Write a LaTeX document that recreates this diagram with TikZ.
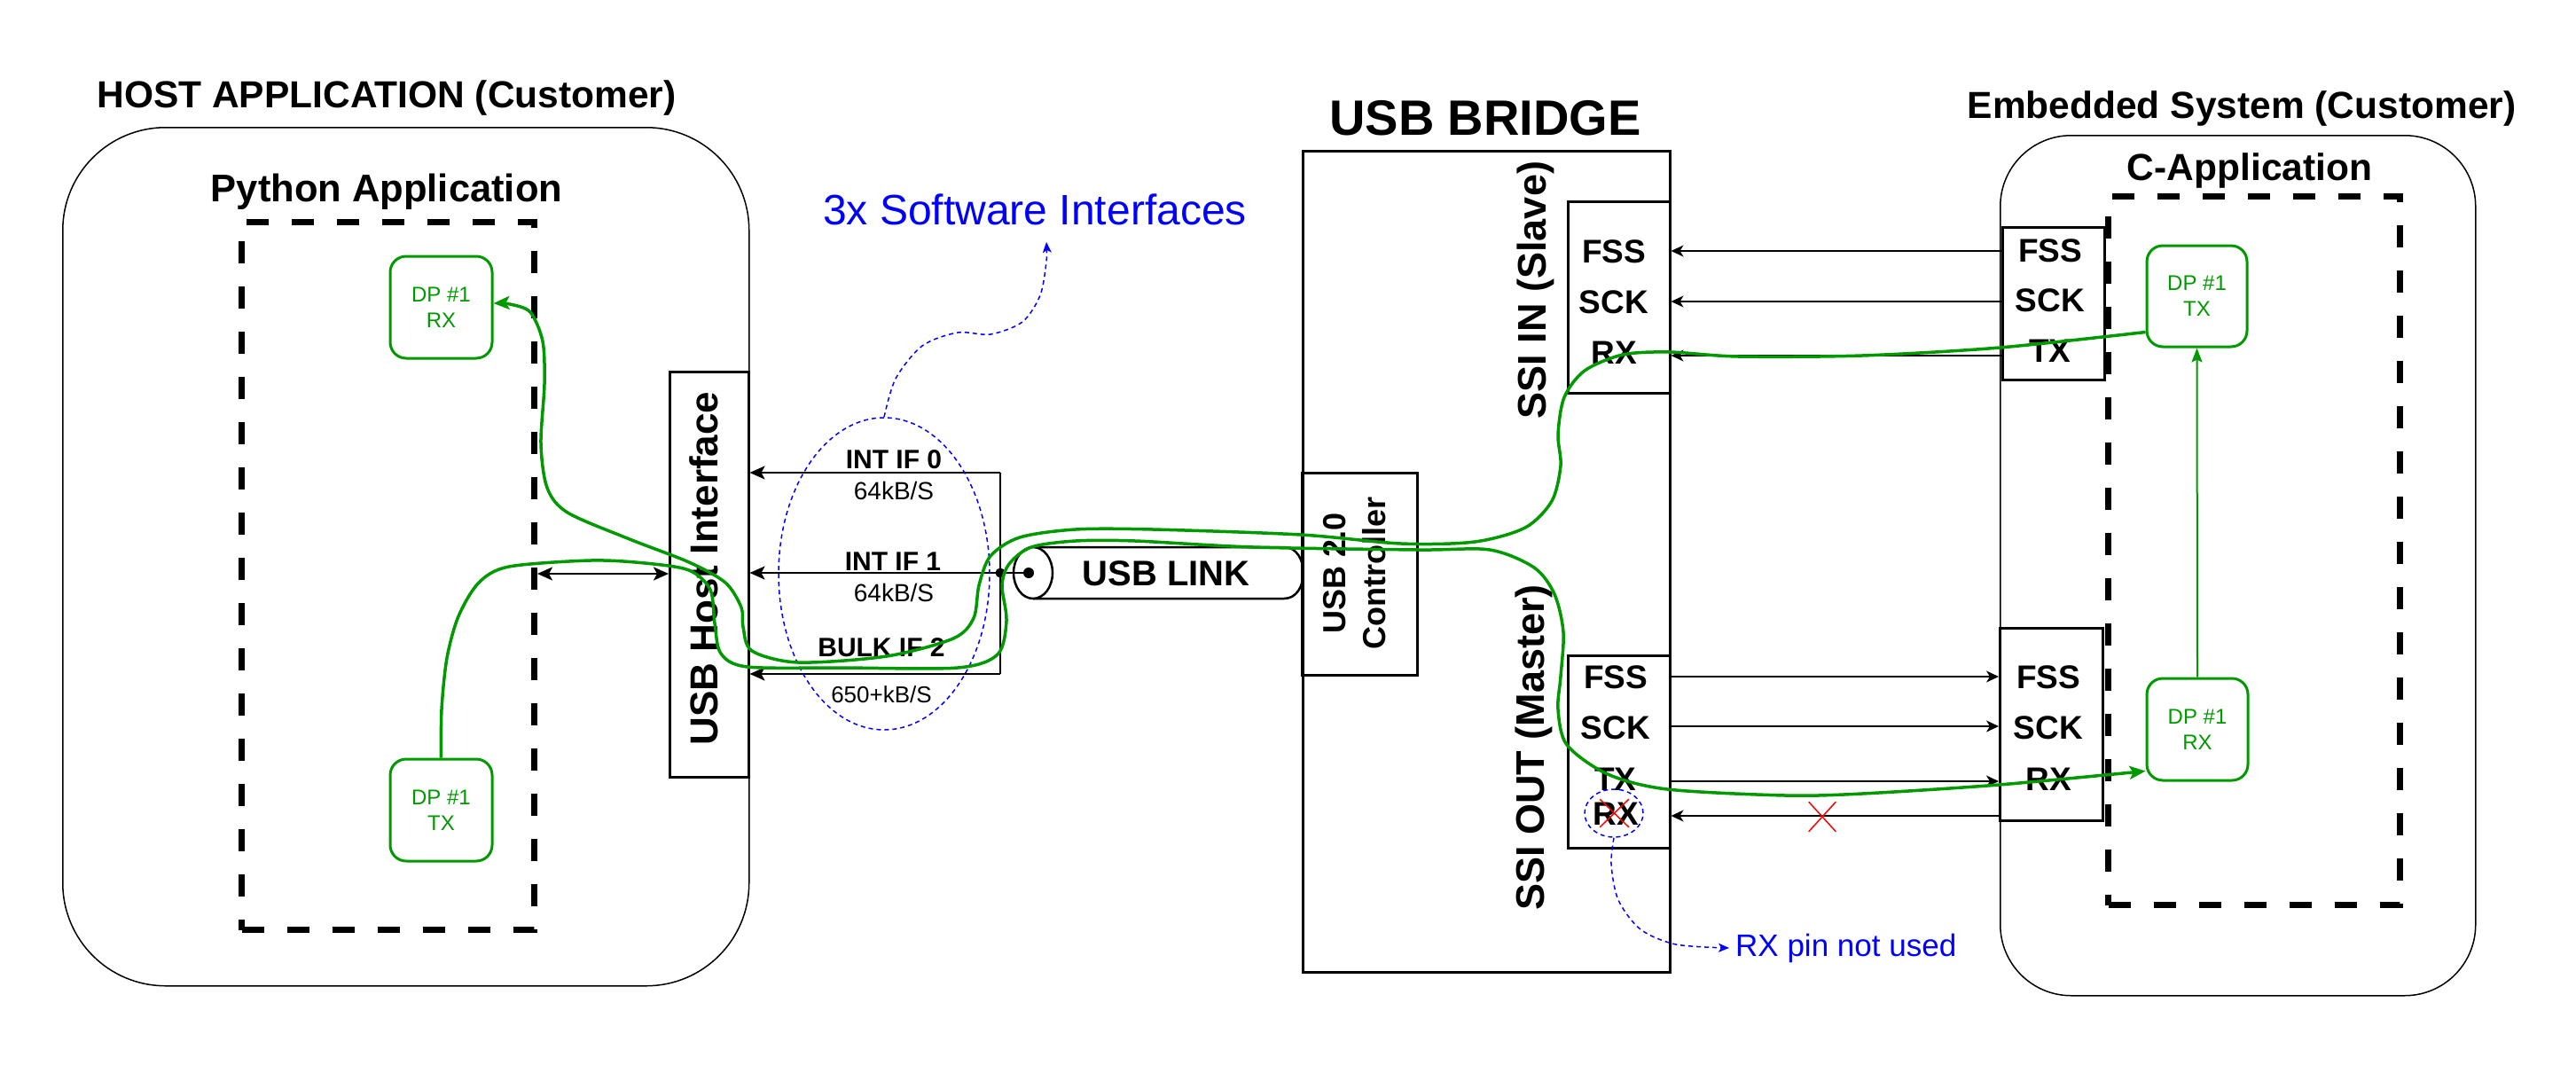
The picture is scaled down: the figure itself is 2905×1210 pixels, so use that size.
\documentclass[tikz,border=0pt]{standalone}
\usepackage{fontspec}
\setmainfont{Liberation Sans}
\usetikzlibrary{arrows.meta,shapes.geometric,shapes.misc,calc}
\definecolor{dgreen}{HTML}{009900}
\definecolor{myblue}{HTML}{0000FF}
\definecolor{myred}{HTML}{FF0000}
\tikzset{
 ttl/.style={font=\fontsize{42.5}{50}\selectfont\bfseries, anchor=base, inner sep=0pt},
 pinlbl/.style={font=\fontsize{37}{44}\selectfont\bfseries, anchor=base, inner sep=0pt},
 ifname/.style={font=\fontsize{30}{36}\selectfont\bfseries, anchor=base, inner sep=0pt},
 ifrate/.style={font=\fontsize{28}{34}\selectfont, anchor=base, inner sep=0pt},
 vlbl/.style={font=\fontsize{45}{54}\selectfont\bfseries, anchor=base, inner sep=0pt, rotate=90},
 blk/.style={draw, line width=2.5pt, inner sep=0pt, anchor=north west},
 roundbox/.style={draw, line width=1.5pt, inner sep=0pt, anchor=north west},
 dashbox/.style={draw, line width=7pt, dash pattern=on 25pt off 26pt, inner sep=0pt, anchor=north west},
 dpbox/.style={draw=dgreen, line width=3pt, rounded corners=18pt, text=dgreen, font=\fontsize{24}{29}\selectfont, align=center, inner sep=0pt},
 arr/.style={line width=2.5pt, -{Stealth[length=17pt,width=15pt,inset=4pt]}},
 dblarr/.style={line width=2.5pt, {Stealth[length=17pt,width=15pt,inset=4pt]}-{Stealth[length=17pt,width=15pt,inset=4pt]}},
 sig/.style={line width=1.6pt, -{Stealth[length=14pt,width=13pt,inset=4pt]}},
 gline/.style={draw=dgreen, line width=3.5pt, -{Stealth[length=18pt,width=15pt,inset=4pt]}},
 bluedash/.style={draw=myblue, line width=1.5pt, dash pattern=on 5pt off 4pt},
 bluetip/.style={-{Stealth[length=12pt,width=10pt,inset=3pt]}},
 xmark/.style={cross out, draw=myred, line width=1.5pt, inner sep=0pt},
}
\begin{document}
\begin{tikzpicture}[x=1pt,y=-1pt]
\fill[white] (0,0) rectangle (2905,1210);
\useasboundingbox (0,0) rectangle (2905,1210);

% big containers
\node[roundbox, rounded corners=116pt, minimum width=774pt, minimum height=968pt] (host) at (70,143) {};
\node[roundbox, rounded corners=80pt, minimum width=536pt, minimum height=970pt] (emb) at (2255,152) {};
\node[dashbox, minimum width=330pt, minimum height=798pt] (pyapp) at (269,247) {};
\node[dashbox, minimum width=329pt, minimum height=799pt] (capp) at (2374,218) {};
\node[blk, minimum width=414pt, minimum height=926pt] (bridge) at (1468,169) {};
\node[blk, minimum width=115pt, minimum height=216pt] (ssiin) at (1767,226) {};
\node[blk, minimum width=115pt, minimum height=217pt] (ssiout) at (1767,738) {};
\node[blk, minimum width=130pt, minimum height=228pt] (usbc) at (1467,532) {};
\node[blk, minimum width=89pt, minimum height=457pt] (hif) at (754,418) {};
\node[blk, minimum width=115pt, minimum height=172pt] (embin) at (2257,255) {};
\node[blk, minimum width=116pt, minimum height=217pt] (embout) at (2254,707) {};

% titles
\node[ttl] (ttlhost) at (436,121) {HOST APPLICATION (Customer)};
\node[ttl, font=\fontsize{43.5}{52}\selectfont\bfseries] (ttlpy) at (436,227) {Python Application};
\node[ttl, font=\fontsize{56}{67}\selectfont\bfseries] (ttlbr) at (1675,152) {USB BRIDGE};
\node[ttl] (ttlemb) at (2528,133) {Embedded System (Customer)};
\node[ttl] (ttlc) at (2537,203) {C-Application};
\node[font=\fontsize{48}{57}\selectfont, text=myblue, anchor=base, inner sep=0pt] (swtxt) at (1167,253) {3x Software Interfaces};
\node[font=\fontsize{35}{42}\selectfont, text=myblue, anchor=base west, inner sep=0pt] (rxtxt) at (1957,1078) {RX pin not used};

% interface labels
\node[ifname] (l0a) at (1008,528) {INT IF 0};
\node[ifrate] (l0b) at (1008,563) {64kB/S};
\node[ifname] (l1a) at (1007,643) {INT IF 1};
\node[ifrate] (l1b) at (1008,678) {64kB/S};
\node[ifname] (l2a) at (994,740) {BULK IF 2};
\node[ifrate, font=\fontsize{26}{31}\selectfont] (l2b) at (994,792) {650+kB/S};

% rotated labels
\node[vlbl] (lblin) at (1743,327) {SSI IN (Slave)};
\node[vlbl] (lblout) at (1741,843) {SSI OUT (Master)};
\node[vlbl, font=\fontsize{44}{53}\selectfont\bfseries] (lblhif) at (809,641) {USB Host Interface};
\node[font=\fontsize{36}{45}\selectfont\bfseries, align=center, rotate=90, inner sep=0pt] (lblusbc) at (1528,646) {USB 2.0\\Controller};

% pin labels
\node[pinlbl] (in1) at (1820,296) {FSS};
\node[pinlbl] (in2) at (1820,353) {SCK};
\node[pinlbl] (in3) at (1820,410) {RX};
\node[pinlbl] (e1) at (2312,295) {FSS};
\node[pinlbl] (e2) at (2312,351) {SCK};
\node[pinlbl] (e3) at (2312,408) {TX};
\node[pinlbl] (o1) at (1822,776) {FSS};
\node[pinlbl] (o2) at (1822,833) {SCK};
\node[pinlbl] (o3) at (1822,891) {TX};
\node[pinlbl] (o4) at (1822,930) {RX};
\node[pinlbl] (b1) at (2310,776) {FSS};
\node[pinlbl] (b2) at (2310,833) {SCK};
\node[pinlbl] (b3) at (2310,891) {RX};

% USB link cylinder
\draw[line width=2.5pt] (1165,617) -- (1448,617) .. controls (1477,617) and (1477,675) .. (1448,675) -- (1165,675);
\draw[line width=2.5pt, fill=white] (1165,646) ellipse [x radius=22pt, y radius=29pt];
\node[font=\fontsize{40}{48}\selectfont\bfseries, anchor=base, inner sep=0pt] (lbllink) at (1315,660) {USB LINK};

% DP boxes
\node[dpbox, minimum width=115pt, minimum height=115pt] (hrx) at (497.5,346.5) {DP \#1\\RX};
\node[dpbox, minimum width=115pt, minimum height=115pt] (htx) at (497.5,913.5) {DP \#1\\TX};
\node[dpbox, minimum width=113pt, minimum height=114pt] (etx) at (2477.5,334) {DP \#1\\TX};
\node[dpbox, minimum width=114pt, minimum height=115pt] (erx) at (2478,822.5) {DP \#1\\RX};

% interface arrows
\coordinate (br0) at (1128,533);
\coordinate (br1) at (1128,646);
\coordinate (br2) at (1128,760);
\coordinate (cyldot) at (1160,646);
\draw[line width=2.5pt] (br0) -- (br2);
\draw[arr] (br0) -- (br0 -| hif.east);
\draw[arr] (cyldot) -- (cyldot -| hif.east);
\draw[arr] (br2) -- (br2 -| hif.east);
\fill (br1) circle[radius=5.5pt];
\fill (cyldot) circle[radius=6pt];
\coordinate (dbl) at (700,647);
\draw[dblarr] (dbl -| pyapp.east) -- (dbl -| hif.west);

% SSI signal arrows
\coordinate (s1) at (2000,283);
\coordinate (s2) at (2000,340);
\coordinate (s3) at (2000,401);
\draw[sig] (s1 -| embin.west) -- (s1 -| ssiin.east);
\draw[sig] (s2 -| embin.west) -- (s2 -| ssiin.east);
\draw[sig] (s3 -| embin.west) -- (s3 -| ssiin.east);
\coordinate (t1) at (2000,763);
\coordinate (t2) at (2000,819);
\coordinate (t3) at (2000,881);
\coordinate (t4) at (2000,920);
\draw[sig] (t1 -| ssiout.east) -- (t1 -| embout.west);
\draw[sig] (t2 -| ssiout.east) -- (t2 -| embout.west);
\draw[sig] (t3 -| ssiout.east) -- (t3 -| embout.west);
\draw[sig] (t4 -| embout.west) -- (t4 -| ssiout.east);

% blue annotations
\node[ellipse, bluedash, minimum width=238pt, minimum height=352pt, inner sep=0pt] (swell) at (997,647) {};
\node[ellipse, bluedash, minimum width=66pt, minimum height=54pt, inner sep=0pt] (rxell) at (1820,917) {};
\coordinate (swtip) at (1180,273);
\draw[bluedash, bluetip] plot[smooth] coordinates {(swell.north) (1010,427) (1040,390) (1080,375) (1117,377) (1153,363) (1173,333) (1180,295) (swtip)};
\coordinate (rxtip) at (1950,1069);
\draw[bluedash, bluetip] plot[smooth] coordinates {(rxell.south) (1817,975) (1825,1015) (1850,1048) (1890,1065) (rxtip)};

% green data paths
\coordinate (pa0) at ($(etx.south west)+(0,-18)$);
\coordinate (pa1) at ($(hrx.east)+(0,-4.5)$);
\draw[gline] plot[smooth, tension=0.5] coordinates {(pa0) (2255,392) (2100,401) (1960,402) (1883,397) (1830,400) (1787,418) (1764,448) (1757,490) (1760,525) (1750,565) (1720,595) (1663,611) (1580,613) (1467,603) (1300,597) (1213,597) (1150,606) (1117,627) (1104,660) (1098,697) (1075,720) (1000,740) (900,747) (848,734) (838,707) (836,685) (818,657) (777,634) (710,608) (640,578) (617,550) (610,500) (614,433) (612,385) (598,352) (575,343) (pa1)};
\coordinate (pb1) at ($(erx.south west)+(0,-12)$);
\draw[gline] plot[smooth, tension=0.5] coordinates {(htx.north) (498,800) (504,742) (517,695) (540,657) (574,639) (666,632) (727,635) (777,643) (801,665) (806,703) (813,737) (843,752) (950,753) (1080,753) (1125,738) (1135,700) (1130,660) (1138,636) (1163,617) (1213,610) (1280,610) (1413,617) (1600,620) (1680,620) (1730,640) (1753,670) (1763,713) (1760,763) (1757,800) (1767,840) (1813,873) (1880,890) (2013,897) (2100,895) (2254,885) (pb1)};
\draw[draw=dgreen, line width=2pt, -{Stealth[length=16pt,width=12pt,inset=3pt]}] (erx.north) -- (etx.south);

% red crosses
\node[xmark, minimum width=29pt, minimum height=32pt] (xline) at (2055,921) {};
\node[xmark, minimum width=31pt, minimum height=30pt] (xrx) at (1820.5,917) {};
\end{tikzpicture}
\end{document}
